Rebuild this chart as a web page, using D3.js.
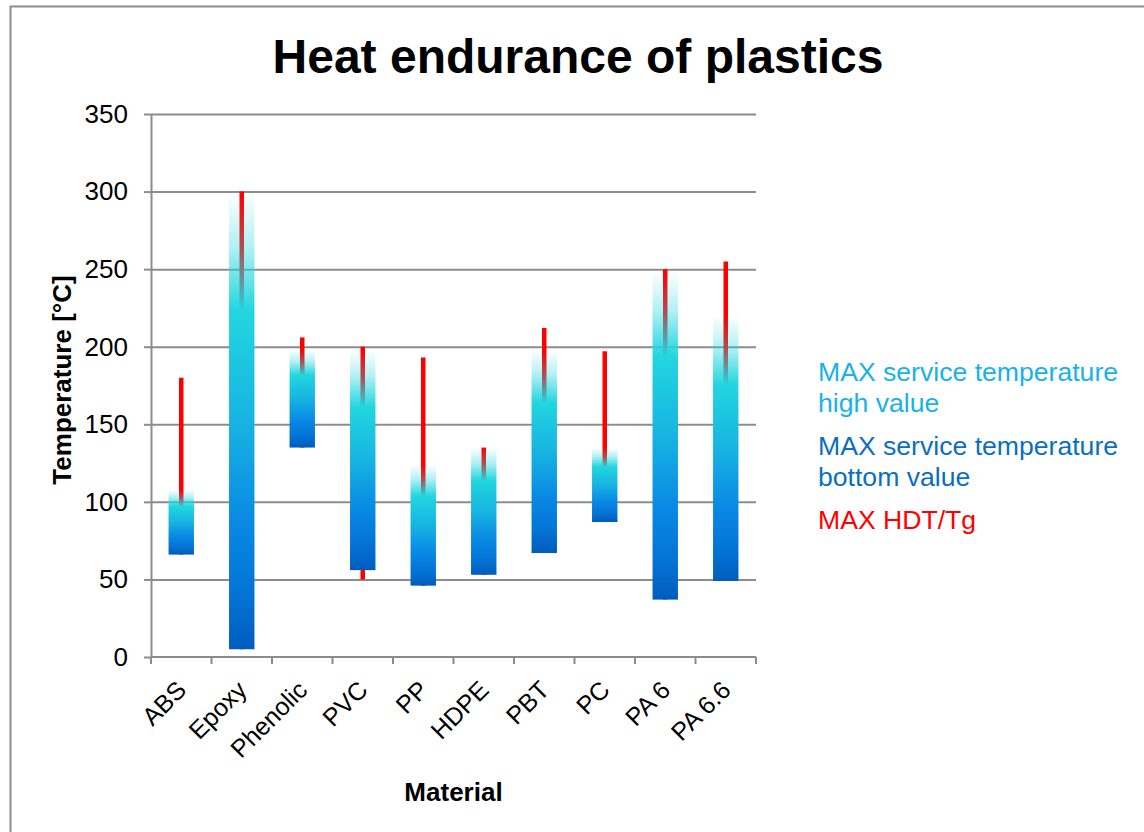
<!DOCTYPE html>
<html>
<head>
<meta charset="utf-8">
<script src="https://cdn.jsdelivr.net/npm/d3@7"></script>
<style>
  html, body { margin: 0; padding: 0; background: #fff; overflow: hidden; }
  svg { display: block; font-family: "Liberation Sans", Arial, sans-serif; }
</style>
</head>
<body>
<svg id="chart" width="1144" height="832"></svg>
<script>
// Materials and their temperature ranges (°C)
const materials = ["ABS", "Epoxy", "Phenolic", "PVC", "PP", "HDPE", "PBT", "PC", "PA 6", "PA 6.6"];
const serviceHigh = [108, 300, 198, 198, 124, 135, 198, 135, 249, 220];
const serviceBottom = [66, 5, 135, 56, 46, 53, 67, 87, 37, 49];
const hdtMax = [180, 300, 206, 200, 193, 135, 212, 197, 250, 255];
const hdtLow = [66, 5, 135, 50, 46, 53, 67, 87, 37, 49];
const yTicks = [0, 50, 100, 150, 200, 250, 300, 350];
const legendItems = [
  { lines: ["MAX service temperature", "high value"], color: "#17b2ec" },
  { lines: ["MAX service temperature", "bottom value"], color: "#0a6fc2" },
  { lines: ["MAX HDT/Tg"], color: "#ff0000" }
];

const svg = d3.select("#chart");
const plot = { left: 151, right: 756, top: 114, bottom: 657 };
const gridColor = "#8c8c8c";

// Outer chart frame (left and top edges fall inside the view)
svg.append("path")
  .attr("d", "M10.5,832V6.5H1144")
  .attr("fill", "none").attr("stroke", gridColor).attr("stroke-width", 2);

const x = d3.scaleBand()
  .domain(materials)
  .range([plot.left, plot.right])
  .paddingInner(0.58)
  .paddingOuter(0.29);

const y = d3.scaleLinear().domain([0, 350]).range([plot.bottom, plot.top]);

// Bar fill: transparent cyan at the top, blending to deep blue at the base
const defs = svg.append("defs");
const grad = defs.append("linearGradient")
  .attr("id", "barFill")
  .attr("x1", 0).attr("y1", 0).attr("x2", 0).attr("y2", 1);
[
  [0.00, "#22d6df", 0.0],
  [0.12, "#22d6df", 0.35],
  [0.26, "#22d6df", 1],
  [0.50, "#17b4e2", 1],
  [0.74, "#0886e4", 1],
  [0.88, "#0374d6", 1],
  [1.00, "#005cbd", 1]
].forEach(([o, c, a]) => {
  grad.append("stop").attr("offset", o).attr("stop-color", c).attr("stop-opacity", a);
});

// Horizontal gridlines
svg.append("g")
  .attr("transform", `translate(${plot.left},0)`)
  .call(d3.axisLeft(y).tickValues(yTicks.filter(v => v > 0)).tickSize(-(plot.right - plot.left)).tickFormat(""))
  .call(g => g.select(".domain").remove())
  .call(g => g.selectAll("line").attr("stroke", gridColor).attr("stroke-width", 2));

// Y axis
svg.append("g")
  .attr("transform", `translate(${plot.left},0)`)
  .call(d3.axisLeft(y).tickValues(yTicks).tickSize(7).tickPadding(16).tickSizeOuter(0))
  .call(g => g.select(".domain").attr("stroke", gridColor).attr("stroke-width", 2))
  .call(g => g.selectAll("line").attr("stroke", gridColor).attr("stroke-width", 2))
  .call(g => g.selectAll("text")
    .attr("font-size", 26)
    .attr("fill", "#000")
    .attr("font-family", "Liberation Sans, Arial, sans-serif"));

// HDT/Tg lines sit behind the bars and show through their faded tops
const rows = materials.map((m, i) => ({
  m, high: serviceHigh[i], low: serviceBottom[i], hdt: hdtMax[i], hdtLow: hdtLow[i]
}));

svg.append("g").selectAll("line")
  .data(rows)
  .join("line")
  .attr("x1", d => x(d.m) + x.bandwidth() / 2)
  .attr("x2", d => x(d.m) + x.bandwidth() / 2)
  .attr("y1", d => y(d.hdt))
  .attr("y2", d => y(d.hdtLow))
  .attr("stroke", "#ff0000")
  .attr("stroke-width", 4.5);

// Service temperature range bars
svg.append("g").selectAll("rect")
  .data(rows)
  .join("rect")
  .attr("x", d => x(d.m))
  .attr("width", x.bandwidth())
  .attr("y", d => y(d.high))
  .attr("height", d => y(d.low) - y(d.high))
  .attr("fill", "url(#barFill)");

// X axis line with tick marks at category boundaries
const xAxis = svg.append("g");
xAxis.append("line")
  .attr("x1", plot.left).attr("x2", plot.right)
  .attr("y1", y(0)).attr("y2", y(0))
  .attr("stroke", gridColor).attr("stroke-width", 2);
const step = x.step();
const boundaries = d3.range(materials.length + 1).map(i => x(materials[0]) - step * x.paddingOuter() + i * step);
xAxis.selectAll("line.tick")
  .data(boundaries)
  .join("line")
  .attr("class", "tick")
  .attr("x1", d => d).attr("x2", d => d)
  .attr("y1", y(0)).attr("y2", y(0) + 7)
  .attr("stroke", gridColor).attr("stroke-width", 2);

// Rotated category labels
xAxis.selectAll("text")
  .data(materials)
  .join("text")
  .attr("transform", d => `translate(${x(d) + x.bandwidth() / 2 - 6},${y(0) + 22}) rotate(-45)`)
  .attr("text-anchor", "end")
  .attr("dy", "0.71em")
  .attr("font-size", 25)
  .attr("fill", "#000")
  .text(d => d);

// Title
svg.append("text")
  .attr("x", 578).attr("y", 73)
  .attr("text-anchor", "middle")
  .attr("font-size", 48).attr("font-weight", "bold")
  .text("Heat endurance of plastics");

// Axis titles
svg.append("text")
  .attr("x", (plot.left + plot.right) / 2).attr("y", 801)
  .attr("text-anchor", "middle")
  .attr("font-size", 26).attr("font-weight", "bold")
  .text("Material");

svg.append("text")
  .attr("transform", "translate(71,380) rotate(-90)")
  .attr("text-anchor", "middle")
  .attr("font-size", 26).attr("font-weight", "bold")
  .text("Temperature [°C]");

// Legend
const legend = svg.append("g").attr("transform", "translate(818,381)");
let ly = 0;
legendItems.forEach(item => {
  const t = legend.append("text")
    .attr("y", ly)
    .attr("font-size", 26.6)
    .attr("fill", item.color);
  item.lines.forEach((line, k) => {
    t.append("tspan").attr("x", 0).attr("dy", k === 0 ? 0 : 31).text(line);
  });
  ly += item.lines.length * 31 + 12;
});
</script>
</body>
</html>
